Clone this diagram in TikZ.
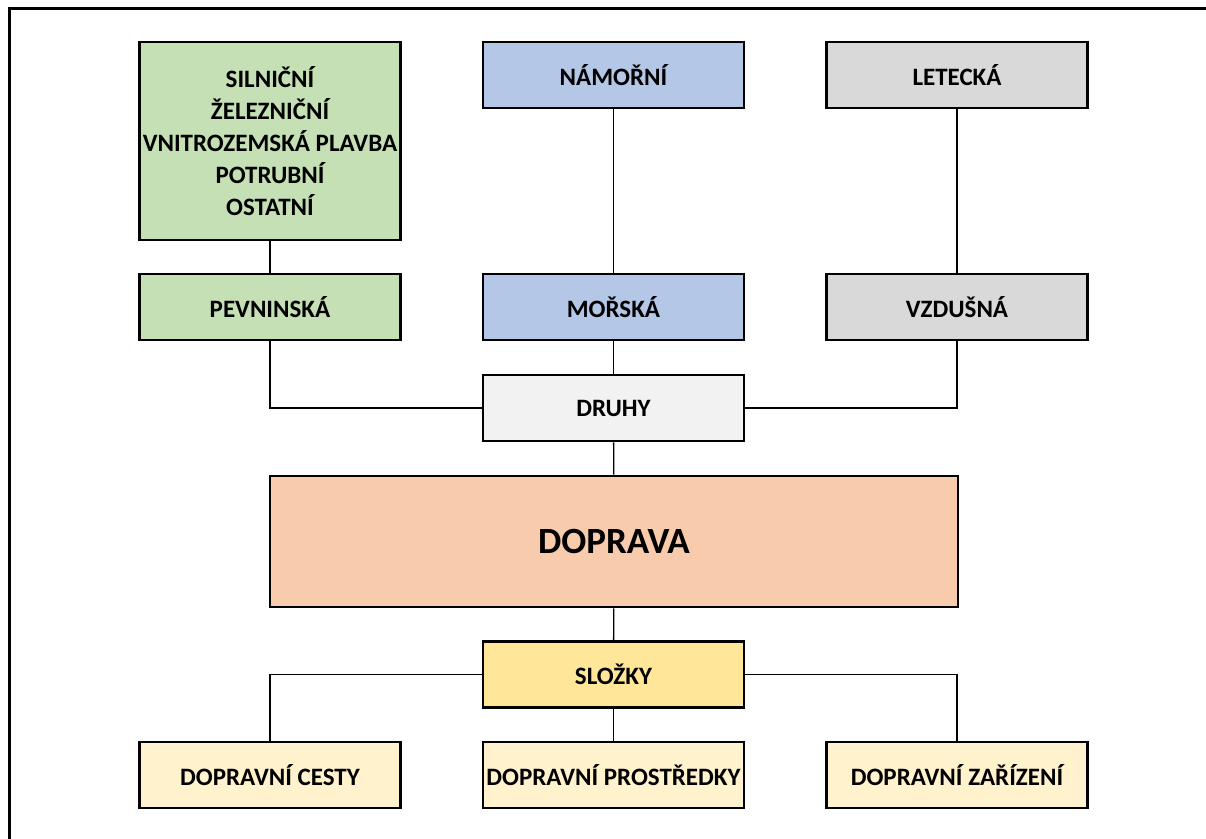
\documentclass[tikz,border=0pt]{standalone}
\usepackage{fontspec}
\setmainfont{Carlito}
\definecolor{cgreen}{HTML}{C5E0B4}
\definecolor{cblue}{HTML}{B4C7E7}
\definecolor{cgray}{HTML}{D9D9D9}
\definecolor{clight}{HTML}{F2F2F2}
\definecolor{cpeach}{HTML}{F8CBAD}
\definecolor{cyell}{HTML}{FFE699}
\definecolor{cpale}{HTML}{FFF2CC}
\tikzset{
  box/.style={draw=black, line width=2.6pt, rectangle, minimum width=261pt, minimum height=66pt,
    inner sep=0pt, align=center, font=\fontsize{25}{32}\selectfont\bfseries},
  conn/.style={draw=black, line width=1.3pt},
}
\begin{document}
\begin{tikzpicture}[x=1pt,y=-1pt]
\useasboundingbox (0,0) rectangle (1206,838);
\begin{scope}
\clip (0,0) rectangle (1206,838);
\draw[line width=2.6pt] (9.5,900) -- (9.5,8.5) -- (1300,8.5);
\end{scope}
% top row
\node[box, fill=cgreen, minimum height=198pt] (list) at (270,141)
  {SILNIČNÍ\\ŽELEZNIČNÍ\\VNITROZEMSKÁ PLAVBA\\POTRUBNÍ\\OSTATNÍ};
\node[box, fill=cblue] (namorni) at (613.5,75) {NÁMOŘNÍ};
\node[box, fill=cgray] (letecka) at (957,75) {LETECKÁ};
% second row
\node[box, fill=cgreen] (pevninska) at (270,307) {PEVNINSKÁ};
\node[box, fill=cblue] (morska) at (613.5,307) {MOŘSKÁ};
\node[box, fill=cgray] (vzdusna) at (957,307) {VZDUŠNÁ};
% center
\node[box, fill=clight] (druhy) at (613.5,408) {DRUHY};
\node[box, fill=cpeach, minimum width=688pt, minimum height=131pt, font=\fontsize{37}{44}\selectfont\bfseries] (doprava) at (614,541.5) {\raisebox{-3pt}{DOPRAVA}};
\node[box, fill=cyell] (slozky) at (613.5,674.5) {SLOŽKY};
% bottom row
\node[box, fill=cpale] (cesty) at (270,775) {DOPRAVNÍ CESTY};
\node[box, fill=cpale] (prostredky) at (613.5,775) {DOPRAVNÍ PROSTŘEDKY};
\node[box, fill=cpale] (zarizeni) at (957,775) {DOPRAVNÍ ZAŘÍZENÍ};
% connectors
\draw[conn] (list) -- (pevninska);
\draw[conn] (namorni) -- (morska);
\draw[conn] (letecka) -- (vzdusna);
\draw[conn] (pevninska.south) |- (druhy.west);
\draw[conn] (vzdusna.south) |- (druhy.east);
\draw[conn] (morska) -- (druhy);
\draw[conn] (druhy) -- (doprava);
\draw[conn] (doprava) -- (slozky);
\draw[conn] (slozky.west) -| (cesty.north);
\draw[conn] (slozky.east) -| (zarizeni.north);
\draw[conn] (slozky) -- (prostredky);
\end{tikzpicture}
\end{document}
